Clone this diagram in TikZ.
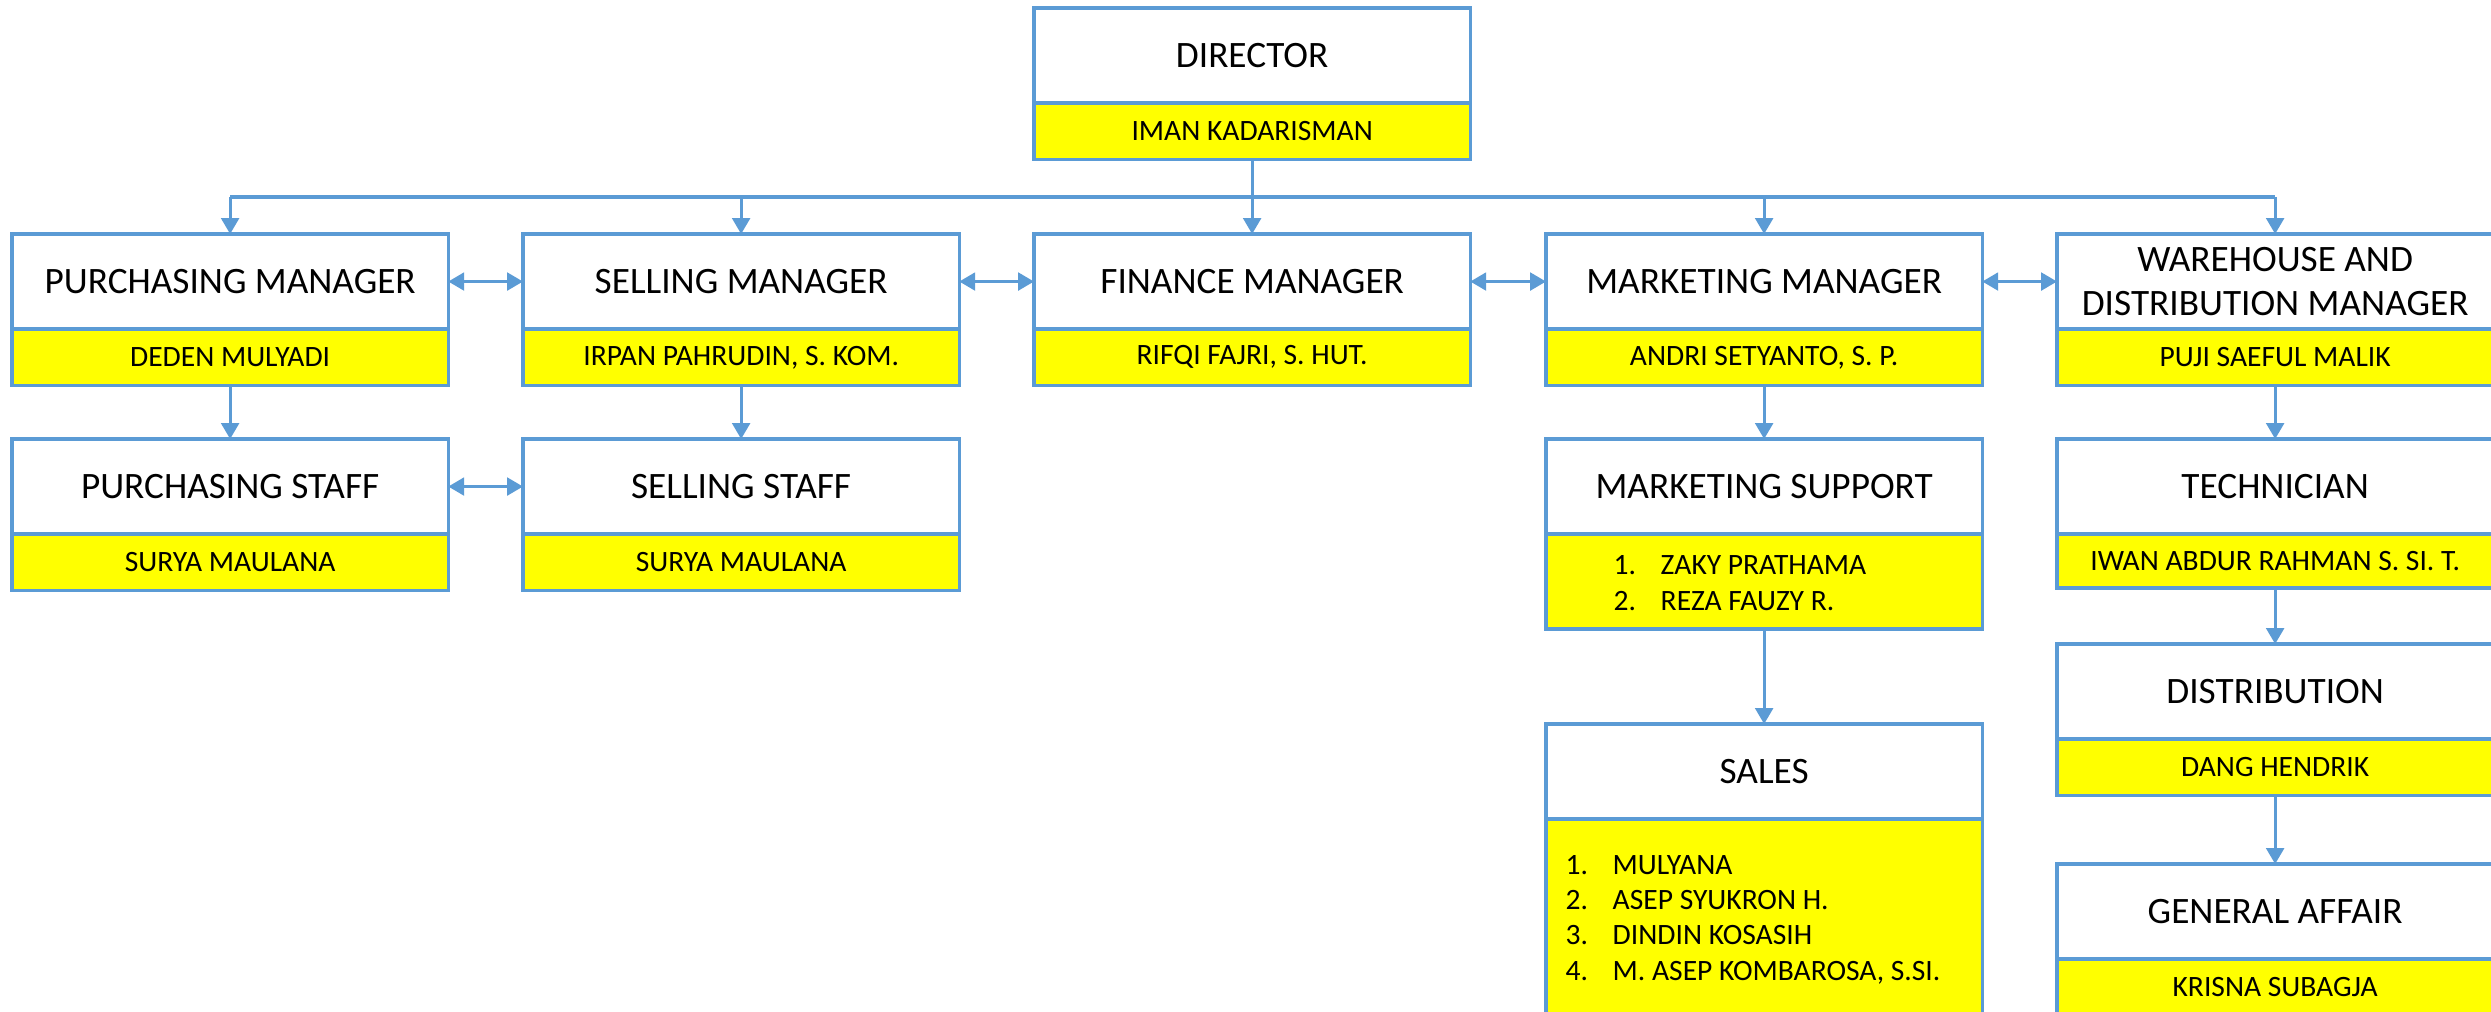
\documentclass[tikz,border=0pt]{standalone}
\usepackage{fontspec}
\setmainfont{Carlito}
\usetikzlibrary{arrows.meta}
\definecolor{lineblue}{HTML}{5B9BD5}
\definecolor{nameyellow}{HTML}{FFFF00}
\tikzset{
 titlebox/.style={draw=lineblue, line width=1pt, fill=white, minimum width=4.36cm, minimum height=0.95cm, inner sep=0pt, outer sep=0pt, align=center, font=\fontsize{10.6}{12.4}\selectfont, anchor=north west},
 namebox/.style={draw=lineblue, line width=1pt, fill=nameyellow, minimum width=4.36cm, minimum height=0.565cm, inner sep=0pt, outer sep=0pt, align=center, font=\fontsize{8.4}{10}\selectfont, anchor=north west},
 listitem/.style={inner sep=0pt, anchor=base west, font=\fontsize{8.4}{10}\selectfont},
 conn/.style={draw=lineblue, line width=0.9pt},
 arr/.style={conn, -{Triangle[width=5pt,length=4.5pt]}},
 darr/.style={conn, {Triangle[width=5pt,length=4.5pt]}-{Triangle[width=5pt,length=4.5pt]}},
}
\begin{document}
\begin{tikzpicture}[x=0.01cm,y=-0.01cm]
\useasboundingbox (0,0) rectangle (2491,1011);
\fill[white] (0,0) rectangle (2491,1011);
% director
\node[titlebox] (dir) at (1034,8) {DIRECTOR};
\node[namebox] (dirn) at (dir.south west) {IMAN KADARISMAN};
% managers
\node[titlebox] (pm) at (12,234) {PURCHASING MANAGER};
\node[namebox] (pmn) at (pm.south west) {DEDEN MULYADI};
\node[titlebox] (sm) at (523,234) {SELLING MANAGER};
\node[namebox] (smn) at (sm.south west) {IRPAN PAHRUDIN, S. KOM.};
\node[titlebox] (fm) at (1034,234) {FINANCE MANAGER};
\node[namebox] (fmn) at (fm.south west) {RIFQI FAJRI, S. HUT.};
\node[titlebox] (mm) at (1546,234) {MARKETING MANAGER};
\node[namebox] (mmn) at (mm.south west) {ANDRI SETYANTO, S. P.};
\node[titlebox] (wm) at (2057,234) {WAREHOUSE AND\\DISTRIBUTION MANAGER};
\node[namebox] (wmn) at (wm.south west) {PUJI SAEFUL MALIK};
% staff
\node[titlebox] (ps) at (12,439) {PURCHASING STAFF};
\node[namebox] (psn) at (ps.south west) {SURYA MAULANA};
\node[titlebox] (ss) at (523,439) {SELLING STAFF};
\node[namebox] (ssn) at (ss.south west) {SURYA MAULANA};
% marketing support
\node[titlebox] (msup) at (1546,439) {MARKETING SUPPORT};
\node[namebox, minimum height=0.95cm] (msupn) at (msup.south west) {};
\node[listitem] (ms1a) at (1613,574) {1.};
\node[listitem] (ms1b) at (1660,574) {ZAKY PRATHAMA};
\node[listitem] (ms2a) at (1613,610) {2.};
\node[listitem] (ms2b) at (1660,610) {REZA FAUZY R.};
% sales
\node[titlebox] (sales) at (1546,724) {SALES};
\node[namebox, minimum height=2.3cm] (salesn) at (sales.south west) {};
\node[listitem] (sl1a) at (1565,874) {1.};
\node[listitem] (sl1b) at (1612,874) {MULYANA};
\node[listitem] (sl2a) at (1565,909) {2.};
\node[listitem] (sl2b) at (1612,909) {ASEP SYUKRON H.};
\node[listitem] (sl3a) at (1565,944) {3.};
\node[listitem] (sl3b) at (1612,944) {DINDIN KOSASIH};
\node[listitem] (sl4a) at (1565,980) {4.};
\node[listitem] (sl4b) at (1612,980) {M. ASEP KOMBAROSA, S.SI.};
% warehouse chain
\node[titlebox] (tech) at (2057,439) {TECHNICIAN};
\node[namebox, minimum height=0.54cm] (techn) at (tech.south west) {IWAN ABDUR RAHMAN S. SI. T.};
\node[titlebox] (dist) at (2057,644) {DISTRIBUTION};
\node[namebox] (distn) at (dist.south west) {DANG HENDRIK};
\node[titlebox] (ga) at (2057,864) {GENERAL AFFAIR};
\node[namebox] (gan) at (ga.south west) {KRISNA SUBAGJA};
% bus
\coordinate (bus) at (1253,197);
\draw[conn] (pm.north |- bus) -- (wm.north |- bus);
\draw[arr] (dirn.south) -- (fm.north);
\draw[arr] (pm.north |- bus) -- (pm.north);
\draw[arr] (sm.north |- bus) -- (sm.north);
\draw[arr] (mm.north |- bus) -- (mm.north);
\draw[arr] (wm.north |- bus) -- (wm.north);
% lateral double arrows
\draw[darr] (pm.east) -- (sm.west);
\draw[darr] (sm.east) -- (fm.west);
\draw[darr] (fm.east) -- (mm.west);
\draw[darr] (mm.east) -- (wm.west);
\draw[darr] (ps.east) -- (ss.west);
% vertical arrows
\draw[arr] (pmn.south) -- (ps.north);
\draw[arr] (smn.south) -- (ss.north);
\draw[arr] (mmn.south) -- (msup.north);
\draw[arr] (msupn.south) -- (sales.north);
\draw[arr] (wmn.south) -- (tech.north);
\draw[arr] (techn.south) -- (dist.north);
\draw[arr] (distn.south) -- (ga.north);
\end{tikzpicture}
\end{document}
